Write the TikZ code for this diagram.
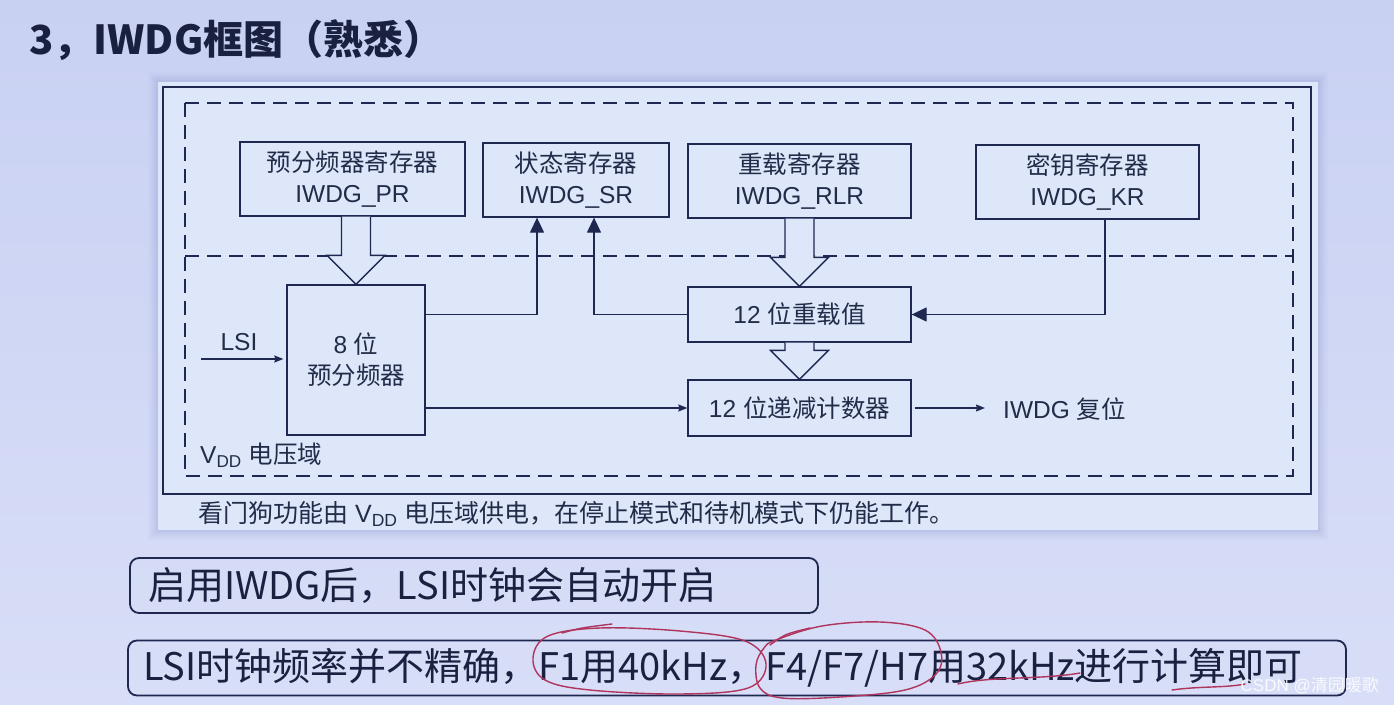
\documentclass[tikz,border=0pt]{standalone}
\usepackage{fontspec}
\setmainfont{Liberation Sans}
\newfontfamily\cjk{Noto Sans CJK SC}
\usetikzlibrary{arrows.meta,calc}
\definecolor{bgc}{HTML}{C9D1F3}
\definecolor{bgl}{HTML}{D8DEF7}
\definecolor{panelc}{HTML}{DEE7FA}
\definecolor{shadowc}{HTML}{9EA6DA}
\definecolor{ink}{HTML}{1E2850}
\definecolor{txt}{HTML}{222C48}
\definecolor{titlec}{HTML}{1A2140}
\definecolor{redpen}{HTML}{B0345E}
\newcommand\hollowarr[2]{%
  \filldraw[hollowst] let \p1=(#2.north), \p2=(#1.south) in
    (\x1-14.5pt,\y2) -- (\x1-14.5pt,\y1+29pt) -- (\x1-29pt,\y1+29pt) -- (\p1)
    -- (\x1+29pt,\y1+29pt) -- (\x1+14.5pt,\y1+29pt) -- (\x1+14.5pt,\y2);}
\begin{document}
\begin{tikzpicture}[x=1pt,y=-1pt,
  regbox/.style={draw=ink, line width=1.3pt, inner sep=0pt, align=center, text=txt,
    font=\fontsize{24.5}{31}\selectfont},
  txtnode/.style={inner sep=0pt, text=txt, font=\fontsize{24.5}{31}\selectfont},
  conn/.style={draw=ink, line width=1.3pt},
  fillarr/.style={conn, -{Triangle[length=15pt,width=14pt]}},
  smallarr/.style={conn, -{Stealth[length=9pt,width=7pt,inset=1pt]}},
  hollowst/.style={draw=ink, fill=panelc, line width=1.3pt, line join=miter},
  dashst/.style={draw=ink, line width=1.3pt, dash pattern=on 14pt off 8pt},
  bbox/.style={draw=ink, line width=1.8pt, rounded corners=9pt, inner ysep=0pt,
    minimum height=55pt, align=left, text=titlec,
    font=\cjk\fontsize{38}{42}\selectfont},
  redst/.style={draw=redpen, line width=1.4pt, line cap=round}
]
\useasboundingbox (0,0) rectangle (1394,704);
\shade[top color=bgc, bottom color=bgl] (0,0) rectangle (1394,704);

% title
\node[anchor=west, inner sep=0pt, text=titlec, font=\cjk\bfseries\fontsize{40}{44}\selectfont]
  (title) at (29,40) {3，IWDG框图（熟悉）};

% panel with soft shadow
\foreach \d/\o in {10/0.06,8/0.08,6/0.10,4/0.12,2/0.15}{
  \fill[shadowc, opacity=\o] (158-\d,82-\d) rectangle (1318+\d,530+\d);}
\fill[panelc] (158,82) rectangle (1318,530);
\draw[ink, line width=1.5pt] (163,87) rectangle (1311,494);

% dashed domains
\draw[dashst] (185,103) rectangle (1293,476);
\draw[dashst] (185,256) -- (1293,256);

% register boxes
\node[regbox, minimum width=225pt, minimum height=74pt] (PR) at (352.5,179)
  {{\cjk 预分频器寄存器}\\IWDG\_PR};
\node[regbox, minimum width=186pt, minimum height=74pt] (SR) at (576,180)
  {{\cjk 状态寄存器}\\IWDG\_SR};
\node[regbox, minimum width=223pt, minimum height=74pt] (RLR) at (799.5,181)
  {{\cjk 重载寄存器}\\IWDG\_RLR};
\node[regbox, minimum width=223pt, minimum height=74pt] (KR) at (1087.5,182)
  {{\cjk 密钥寄存器}\\IWDG\_KR};

% lower blocks
\node[regbox, minimum width=138pt, minimum height=150pt] (pre) at (356,360)
  {8 {\cjk 位}\\{\cjk 预分频器}};
\node[regbox, minimum width=223pt, minimum height=55pt] (rel) at (799.5,314.5)
  {12 {\cjk 位重载值}};
\node[regbox, minimum width=223pt, minimum height=56pt] (cnt) at (799.5,408)
  {12 {\cjk 位递减计数器}};

% hollow arrows
\hollowarr{PR}{pre}
\hollowarr{RLR}{rel}
\hollowarr{rel}{cnt}

% connectors
\draw[fillarr] (pre.east |- rel.west) -| ([xshift=-39pt]SR.south);
\draw[fillarr] (rel.west) -| ([xshift=18pt]SR.south);
\draw[fillarr] ([xshift=17.5pt]KR.south) |- (rel.east);
\draw[smallarr] (pre.east |- cnt.west) -- (cnt.west);

\coordinate (lsiin) at (201,359);
\node[txtnode] (lsil) at (239,342) {LSI};
\draw[smallarr, shorten >=3pt] (lsiin) -- (lsiin -| pre.west);

\node[txtnode, anchor=west] (rst) at (1003,409) {IWDG {\cjk 复位}};
\draw[smallarr, shorten <=3pt, shorten >=18pt] (cnt.east) -- (cnt.east -| rst.west);

\node[txtnode, anchor=west] (vdd) at (200,455) {V\textsubscript{DD} {\cjk 电压域}};

% caption
\node[txtnode, anchor=west, font=\fontsize{25}{30}\selectfont] (cap) at (198,514)
  {{\cjk 看门狗功能由} V\textsubscript{DD} {\cjk 电压域供电，在停止模式和待机模式下仍能工作。}};

% bottom notes
\node[bbox, inner xsep=18pt, text width=652pt] (n1) at (474,585.5)
  {启用IWDG后，LSI时钟会自动开启};
\node[bbox, inner xsep=15pt, text width=1188pt] (n2) at (737,668)
  {LSI时钟频率并不精确，F1用40kHz，F4/F7/H7用32kHz进行计算即可};

% red pen annotations
\draw[redst] plot[smooth cycle, tension=0.6] coordinates
  {(548,636) (600,628) (680,631) (745,641) (766,664) (748,688) (680,694) (590,690) (545,680) (533,658)};
\draw[redst] (562,633) .. controls (580,628) .. (612,624);
\draw[redst] plot[smooth cycle, tension=0.6] coordinates
  {(776,640) (822,626) (880,622) (925,630) (941,652) (936,674) (905,690) (840,697) (782,698) (760,688) (756,665) (764,648)};
\draw[redst] (770,645) .. controls (785,634) .. (810,628);
\draw[redst] (958,684) .. controls (990,676) and (1040,680) .. (1080,673);
\draw[redst] (1172,690) .. controls (1200,686) and (1225,688) .. (1245,684);

% watermark
\node[anchor=east, inner sep=0pt, text=white, opacity=0.85, font=\fontsize{17}{20}\selectfont]
  (wm) at (1379,686) {CSDN @{\cjk 清园暖歌}};
\end{tikzpicture}
\end{document}
